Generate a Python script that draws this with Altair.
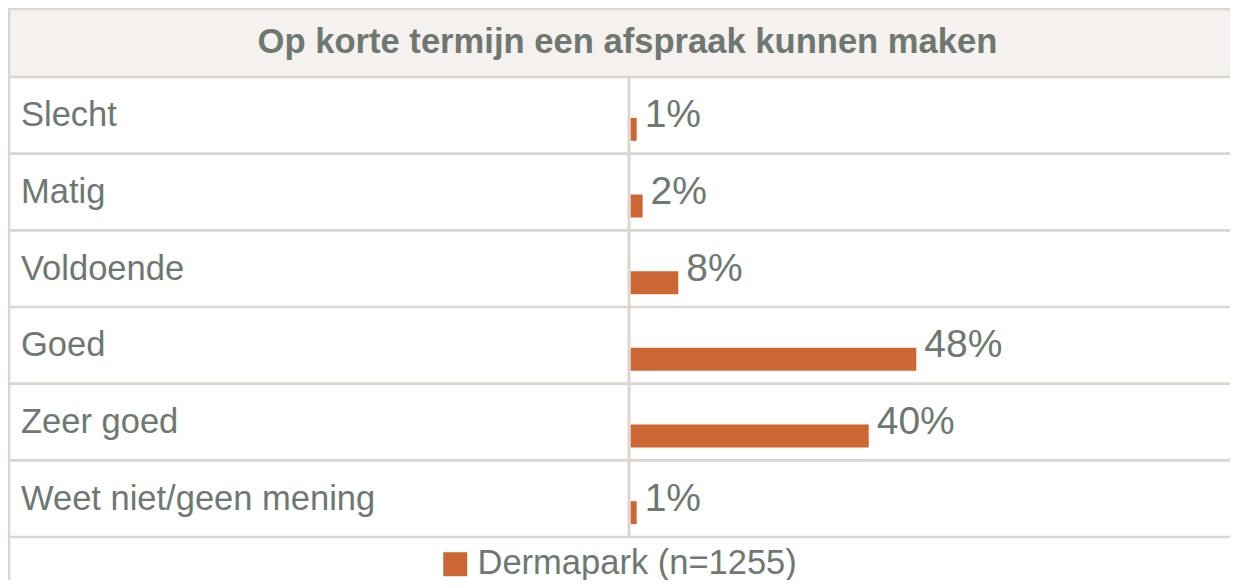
import altair as alt
import pandas as pd

categories = ["Slecht", "Matig", "Voldoende", "Goed", "Zeer goed", "Weet niet/geen mening"]
values = [1, 2, 8, 48, 40, 1]
labels = ["1%", "2%", "8%", "48%", "40%", "1%"]
series_name = "Dermapark (n=1255)"
title_text = "Op korte termijn een afspraak kunnen maken"

df = pd.DataFrame({"cat": categories, "value": values, "label": labels,
                   "series": [series_name] * len(categories)})

W, H = 1222, 572
TOP, BOT = 69, 529
X0 = 622.7
FONT = "Liberation Sans, Arial, Helvetica, sans-serif"
GRAY = "#6e7871"
LINE = "#ddd5cf"
HEADER = "#f4f1ee"
BAR = "#cc6633"

yscale = alt.Scale(domain=categories, range=[TOP, BOT], paddingInner=0, paddingOuter=0)
yenc = alt.Y("cat:N", sort=categories, scale=yscale, axis=None)
xscale = alt.Scale(domain=[0, 100], range=[X0, X0 + 595])

base = alt.Chart(df)
single = alt.Chart(pd.DataFrame({"t": [title_text]}))

header = single.mark_rect(color=HEADER).encode(
    x=alt.value(0), x2=alt.value(W), y=alt.value(0), y2=alt.value(TOP))

title = single.mark_text(font=FONT, fontSize=34.6, fontWeight="bold", color=GRAY,
                         align="center", baseline="middle").encode(
    x=alt.value(619.5), y=alt.value(34.5), text="t:N")

row_lines = base.mark_rule(color=LINE, strokeWidth=2.6).encode(
    y=alt.Y("cat:N", sort=categories, scale=yscale, axis=None, bandPosition=0),
    x=alt.value(0), x2=alt.value(W))

edge_lines = single.mark_rule(color=LINE, strokeWidth=2.6).encode(
    y=alt.value(BOT), x=alt.value(0), x2=alt.value(W))
top_line = single.mark_rule(color=LINE, strokeWidth=2.6).encode(
    y=alt.value(1), x=alt.value(0), x2=alt.value(W))
left_line = single.mark_rule(color=LINE, strokeWidth=2.6).encode(
    x=alt.value(1), y=alt.value(0), y2=alt.value(H))

divider = single.mark_rule(color=LINE, strokeWidth=3).encode(
    x=alt.value(X0 - 1.7), y=alt.value(TOP), y2=alt.value(BOT))

bars = base.mark_bar(size=23, yOffset=14).encode(
    x=alt.X("value:Q", scale=xscale, axis=None),
    y=yenc,
    color=alt.Color("series:N", scale=alt.Scale(range=[BAR]),
                    legend=alt.Legend(orient="none", legendX=430, legendY=539,
                                      title=None, symbolType="square", symbolSize=576,
                                      symbolStrokeWidth=0, symbolOpacity=1,
                                      labelFont=FONT, labelFontSize=34.5, labelColor=GRAY,
                                      labelOffset=5, labelLimit=0, padding=0)))

value_labels = base.mark_text(font=FONT, fontSize=39, color=GRAY, align="left",
                              baseline="middle", dx=8, dy=0).encode(
    x=alt.X("value:Q", scale=xscale, axis=None), y=yenc, text="label:N")

cat_labels = base.mark_text(font=FONT, fontSize=34.5, color=GRAY, align="left",
                            baseline="middle", dy=1).encode(
    x=alt.value(13), y=yenc, text="cat:N")

chart = alt.layer(header, title, row_lines, edge_lines, top_line, left_line, divider,
                  bars, value_labels, cat_labels).properties(
    width=W, height=H, autosize=alt.AutoSizeParams(type="none"), padding=0,
    background="white"
).configure_view(stroke=None)

chart.save("out.html", embed_options={"renderer": "svg", "actions": False})
